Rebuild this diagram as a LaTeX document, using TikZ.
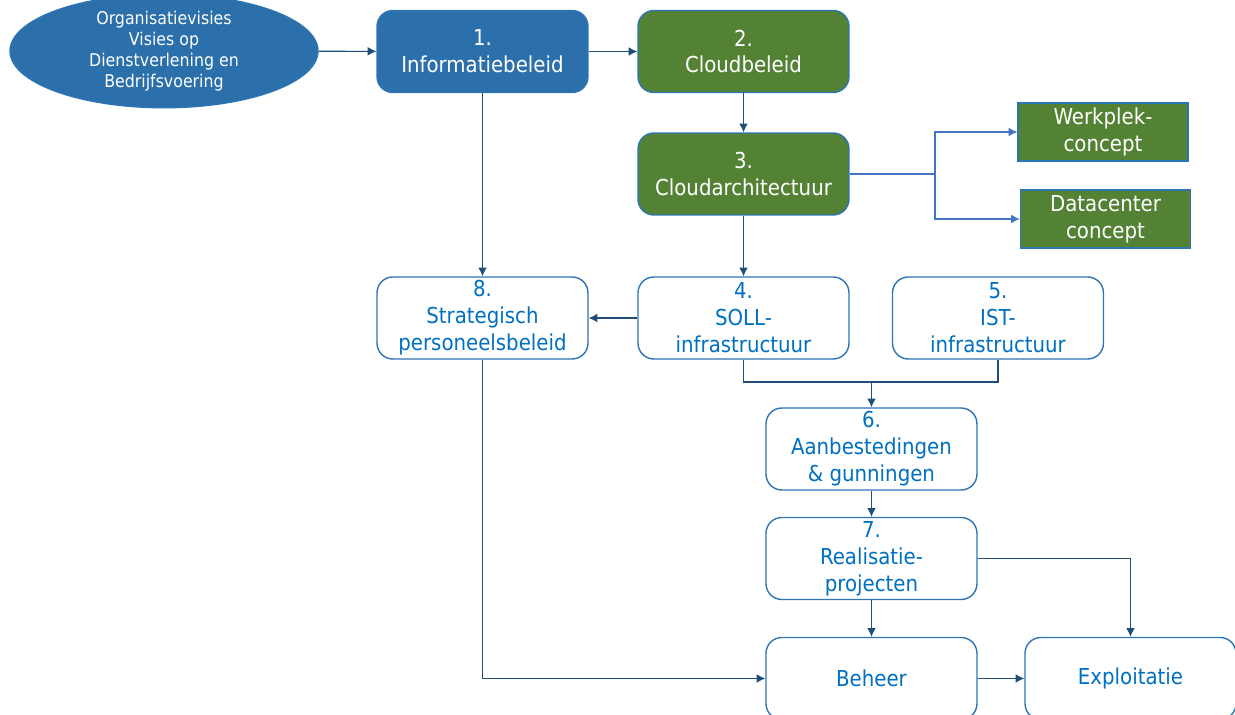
\documentclass[tikz,border=0pt]{standalone}
\usepackage{fontspec}
\setmainfont{DejaVu Sans Condensed}
\usetikzlibrary{shapes.geometric,arrows.meta}

\definecolor{vlakblauw}{HTML}{2B6FAB}
\definecolor{vlakgroen}{HTML}{548235}
\definecolor{randblauw}{HTML}{2E75B6}
\definecolor{tekstblauw}{HTML}{0070C0}
\definecolor{lijndonker}{HTML}{1F4E79}
\definecolor{lijnlicht}{HTML}{4472C4}

\tikzset{
  stap/.style={rounded corners=9pt, minimum width=4.22cm, minimum height=1.64cm,
    inner sep=1pt, align=center, font=\fontsize{12.5}{15.3}\selectfont, line width=0.8pt},
  stapblauw/.style={stap, fill=vlakblauw, draw=randblauw, text=white},
  stapgroen/.style={stap, fill=vlakgroen, draw=randblauw, text=white},
  stapwit/.style={stap, fill=white, draw=randblauw, text=tekstblauw},
  concept/.style={rectangle, minimum width=3.4cm, minimum height=1.16cm, inner sep=1pt,
    align=center, font=\fontsize{12.5}{15.3}\selectfont, fill=vlakgroen, draw=randblauw,
    line width=0.8pt, text=white},
  pijl/.style={draw=lijndonker, line width=0.6pt, -{Latex[length=5pt,width=5pt]}},
  lijn/.style={draw=lijndonker, line width=0.6pt},
  pijllicht/.style={draw=lijnlicht, line width=0.6pt, -{Latex[length=5pt,width=5pt]}}
}

\begin{document}
\begin{tikzpicture}[x=0.02cm, y=-0.02cm]

% Fix the page to the size of the reference
\useasboundingbox (0,0) rectangle (1235,715);

% Ellipse with the visions
\node[ellipse, fill=vlakblauw, draw=randblauw, line width=0.8pt, text=white,
  minimum width=6.16cm, minimum height=1.84cm, inner sep=0pt, align=center,
  font=\fontsize{10}{12}\selectfont] (visie) at (164,51)
  {Organisatievisies\\Visies op\\Dienstverlening en\\Bedrijfsvoering};

% Top row
\node[stapblauw] (info) at (482.5,51.5) {1.\\Informatiebeleid};
\node[stapgroen] (cloud) at (743.5,51.5) {2.\\Cloudbeleid};
\node[stapgroen] (arch) at (743.5,174) {3.\\Cloudarchitectuur};

% Concepts on the right
\node[concept] (werkplek) at (1103,132) {Werkplek-\\concept};
\node[concept] (datacenter) at (1105.5,219) {Datacenter\\concept};

% Middle row
\node[stapwit] (personeel) at (482.5,318) {8.\\Strategisch\\personeelsbeleid};
\node[stapwit] (soll) at (743.5,318) {4.\\SOLL-\\infrastructuur};
\node[stapwit] (ist) at (998,318) {5.\\IST-\\infrastructuur};

% Lower column
\node[stapwit] (aanbest) at (871.5,449) {6.\\Aanbestedingen\\\& gunningen};
\node[stapwit] (realisatie) at (871.5,558.5) {7.\\Realisatie-\\projecten};
\node[stapwit] (beheer) at (871.5,678.5) {Beheer};
\node[stapwit] (exploitatie) at (1130.5,678.5) {Exploitatie};

% Coordinates for the bends
\coordinate (splits) at (935,174);
\coordinate (samen) at (871.5,382);

% Arrows along the top
\draw[pijl] (visie) -- (info);
\draw[pijl] (info) -- (cloud);
\draw[pijl] (cloud) -- (arch);
\draw[pijl] (arch) -- (soll);
\draw[pijl] (info) -- (personeel);
\draw[pijl] (soll) -- (personeel);

% Light blue fork to the concepts
\draw[pijllicht] (arch.east) -- (splits) |- (werkplek.west);
\draw[pijllicht] (splits) |- (datacenter.west);

% SOLL and IST join into step 6
\draw[lijn] (soll.south) |- (samen);
\draw[lijn] (ist.south) |- (samen);
\draw[pijl] (samen) -- (aanbest);

% Lower arrows
\draw[pijl] (aanbest) -- (realisatie);
\draw[pijl] (realisatie) -- (beheer);
\draw[pijl] (realisatie.east) -| (exploitatie.north);
\draw[pijl] (personeel.south) |- (beheer.west);
\draw[pijl] (beheer) -- (exploitatie);

\end{tikzpicture}
\end{document}
